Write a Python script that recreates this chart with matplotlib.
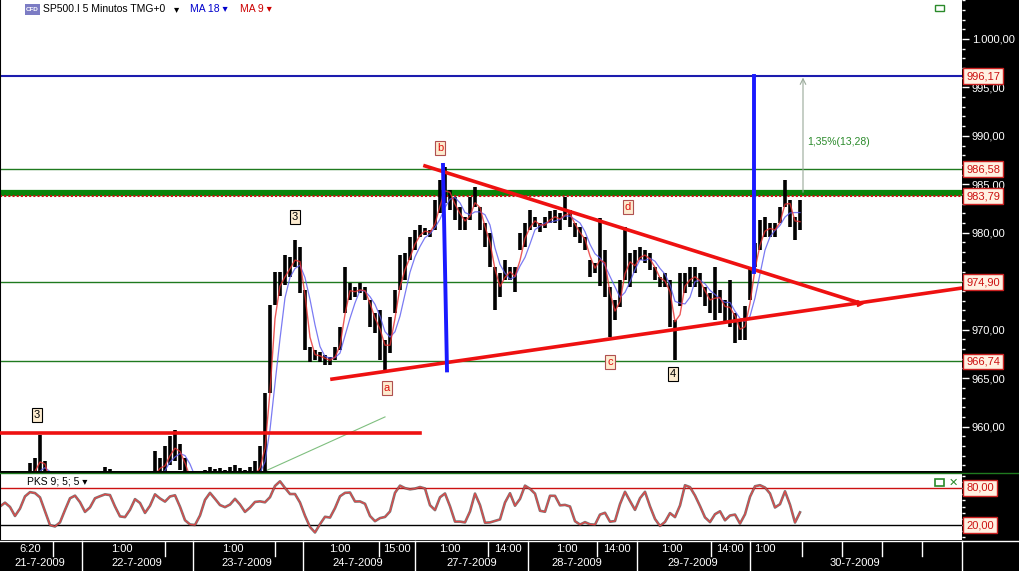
import numpy as np
import pandas as pd
import matplotlib
matplotlib.use("Agg")
import matplotlib.pyplot as plt
from matplotlib.ticker import MultipleLocator, FuncFormatter, NullFormatter
from matplotlib.lines import Line2D
from matplotlib.patches import Rectangle

plt.rcParams['font.family'] = ['Liberation Sans', 'DejaVu Sans']

# ---------------- data (5-minute bars, sampled) ----------------
bar_low = [
    952.5, 953.0, 952.0, 951.5, 952.0, 953.0, 954.0, 954.5, 955.0, 954.0,
    952.5, 951.5, 951.0, 951.5, 952.0, 952.5, 952.0, 951.5, 952.0, 952.5,
    953.0, 954.0, 954.0, 953.0, 952.5, 952.0, 952.5, 953.0, 952.5, 952.0,
    953.0, 954.5, 954.0, 955.0, 956.0, 956.5, 955.5, 954.5, 953.0, 952.0,
    952.5, 953.5, 954.0, 953.8, 954.0, 953.5, 954.0, 954.2, 954.0, 953.5,
    953.8, 954.0, 954.5, 955.0, 963.5, 972.5, 973.5, 974.6, 975.4, 976.5,
    973.8, 967.9, 966.7, 966.9, 966.7, 966.4, 966.4, 966.9, 967.9, 971.7,
    973.1, 973.4, 973.8, 973.1, 970.3, 969.7, 966.9, 965.8, 967.6, 971.7,
    974.1, 975.1, 977.2, 978.2, 979.6, 979.8, 979.6, 980.3, 982.0, 983.1,
    982.4, 981.3, 980.3, 980.3, 981.3, 982.7, 980.3, 978.5, 976.5, 972.0,
    973.4, 975.1, 975.1, 973.9, 978.2, 978.5, 980.3, 980.6, 980.1, 980.5,
    981.0, 981.0, 980.3, 981.3, 980.6, 979.6, 978.9, 978.2, 975.4, 975.9,
    974.5, 973.4, 969.2, 971.0, 972.3, 975.1, 974.4, 975.9, 977.2, 976.9,
    976.2, 975.1, 974.4, 974.4, 970.3, 966.9, 972.4, 973.8, 974.4, 974.4,
    973.4, 972.4, 971.7, 971.0, 971.7, 970.7, 970.3, 968.6, 968.9, 968.9,
    973.1, 976.5, 978.2, 979.6, 979.6, 979.6, 981.0, 982.7, 980.6, 979.3,
    980.3,
]
bar_high = [
    954.0, 954.5, 953.8, 953.5, 954.0, 954.8, 956.2, 956.8, 959.1, 956.5,
    954.5, 953.5, 953.0, 953.5, 954.0, 954.2, 954.0, 953.5, 954.0, 954.5,
    955.0, 955.8, 955.6, 955.0, 954.5, 954.0, 954.3, 954.8, 954.5, 954.0,
    955.0, 957.5, 956.8, 958.0, 959.0, 959.6, 958.2, 956.8, 955.0, 954.0,
    954.5, 955.5, 955.8, 955.6, 955.7, 955.5, 955.8, 956.0, 955.7, 955.5,
    955.8, 956.5, 958.0, 963.5, 972.5, 976.0, 976.0, 977.7, 977.5, 979.3,
    978.5, 974.1, 968.2, 967.9, 967.7, 967.4, 967.2, 968.2, 970.3, 976.5,
    974.8, 974.4, 974.8, 974.4, 973.1, 971.7, 972.0, 968.9, 971.3, 974.1,
    977.7, 977.9, 979.6, 980.3, 980.8, 980.5, 980.3, 983.4, 985.4, 986.8,
    984.4, 983.7, 982.7, 981.6, 983.7, 984.7, 982.7, 981.0, 980.0, 976.5,
    975.9, 977.2, 976.5, 976.5, 980.0, 981.0, 982.4, 981.6, 981.0, 981.6,
    982.2, 982.4, 982.0, 983.7, 982.4, 981.0, 980.6, 979.6, 977.2, 976.9,
    981.5, 978.2, 974.4, 973.1, 975.1, 980.6, 977.9, 978.2, 978.5, 978.2,
    977.9, 976.5, 975.4, 975.9, 975.1, 971.0, 975.9, 975.9, 976.5, 976.5,
    975.9, 974.4, 973.8, 976.5, 974.1, 973.1, 975.1, 971.7, 971.0, 972.4,
    976.5, 978.9, 981.3, 981.6, 981.0, 981.0, 982.7, 985.4, 983.4, 981.6,
    983.4,
]

level_lines = [996.17, 986.58, 974.90, 966.74]
level_colors = ['#1c1cae', '#1f7a1f', '#1f7a1f', '#1f7a1f']
resistance_band = 984.15
dotted_level = 983.79
price_labels = ["996,17", "986,58", "983,79", "974,90", "966,74"]
price_label_values = [996.17, 986.58, 983.79, 974.90, 966.74]

# analyst drawings (bar index, price)
upper_trend = ([85.0, 172.0], [986.9, 972.75])
lower_trend = ([66.4, 192.4], [964.9, 974.3])
old_resistance = ([0.0, 84.0], [959.3, 959.3])
thin_diag = ([53.0, 77.0], [955.4, 961.0])
blue_vert1 = ([88.6, 89.4], [987.0, 965.8])
blue_vert2 = ([150.8, 150.8], [996.17, 976.0])
wave_labels = ["3", "3", "b", "a", "c", "d", "4"]
wave_x = [59.0, 7.4, 88.0, 77.4, 122.0, 125.6, 134.6]
wave_y = [981.6, 961.2, 988.75, 964.0, 966.7, 982.7, 965.4]
wave_col = ['black', 'black', '#dd1111', '#dd1111', '#dd1111', '#dd1111', 'black']

day_bounds = [16.4, 38.6, 60.6, 83.0, 105.6, 127.4, 150.0, 192.4]
time_seps = [10.6, 33.0, 55.0, 75.8, 97.6, 119.4, 142.2, 160.4, 168.4, 176.4, 184.4]
time_labels = ["6:20", "1:00", "1:00", "1:00", "15:00", "1:00", "14:00", "1:00",
               "14:00", "1:00", "14:00", "1:00"]
time_pos = [6.0, 24.4, 46.6, 68.0, 79.4, 90.0, 101.6, 113.4, 123.4, 134.4, 146.0, 153.0]
date_labels = ["21-7-2009", "22-7-2009", "23-7-2009", "24-7-2009", "27-7-2009",
               "28-7-2009", "29-7-2009", "30-7-2009"]
date_pos = [8.0, 27.4, 49.4, 71.6, 94.4, 115.4, 138.6, 171.0]

# ---------------- derived series ----------------
lo = pd.Series(bar_low)
hi = pd.Series(bar_high)
close = (lo + hi) / 2
idx = np.arange(len(lo))
ma18 = close.rolling(4, min_periods=1).mean()
ma9 = close.rolling(2, min_periods=1).mean()
ll = lo.rolling(3, min_periods=1).min()
hh = hi.rolling(3, min_periods=1).max()
stk = (100 * (close - ll) / (hh - ll)).rolling(2, min_periods=1).mean()

# ---------------- figure ----------------
W, H = 1019, 571
fig = plt.figure(figsize=(W / 100, H / 100), dpi=100, facecolor='black')
XR = 962 / W
XMAX = 192.4

ax = fig.add_axes([0, 100 / H, XR, 471 / H])
ax.set_facecolor('white')
ax.set_xlim(0, XMAX)
ax.set_ylim(955.42, 1004.02)
for s in ['top', 'right', 'bottom']:
    ax.spines[s].set_visible(False)
ax.spines['left'].set_color('black')
ax.spines['left'].set_linewidth(1.5)
ax.set_xticks([])
ax.yaxis.tick_right()
ax.yaxis.set_major_locator(MultipleLocator(5))
ax.yaxis.set_minor_locator(MultipleLocator(1))


def eu(v, pos=None):
    if abs(v - 975) < 0.01:
        return ""
    s = f"{v:,.2f}"
    return s.replace(',', 'X').replace('.', ',').replace('X', '.')


ax.yaxis.set_major_formatter(FuncFormatter(eu))
ax.tick_params(axis='y', which='major', colors='white', length=5, width=1,
               labelsize=8, pad=2)
ax.tick_params(axis='y', which='minor', colors='white', length=2, width=1)

# level lines
for v, c in zip(level_lines, level_colors):
    ax.axhline(v, color=c, lw=1.5 if v == 996.17 else 1.0, zorder=2)
ax.axhline(resistance_band, color='#0a840a', lw=4.5, zorder=2)
ax.axhline(dotted_level, color='#cc1111', lw=1.5, ls=(0, (1, 1)), zorder=2)

# price bars
ax.vlines(idx, lo, hi, color='black', lw=2.6, zorder=3)
ax.plot(idx, ma18, color='#5a5af0', lw=0.9, alpha=0.8, zorder=4)
ax.plot(idx, ma9, color='#e83030', lw=1.0, alpha=0.8, zorder=4)

# drawings
ax.plot(*old_resistance, color='#ee1111', lw=2.6, zorder=5)
ax.plot(*upper_trend, color='#ee1111', lw=2.6, zorder=5)
ax.plot(*lower_trend, color='#ee1111', lw=2.6, zorder=5)
ax.plot([upper_trend[0][1]], [upper_trend[1][1]], marker='>', color='#ee1111',
        ms=5, zorder=5)
ax.plot(*thin_diag, color='#7fbf7f', lw=0.8, zorder=2)
ax.plot(*blue_vert1, color='#1a1aff', lw=2.8, zorder=6)
ax.plot(*blue_vert2, color='#1a1aff', lw=2.8, zorder=6)
ax.annotate('', xy=(160.6, 996.3), xytext=(160.6, 983.9),
            arrowprops=dict(arrowstyle='->', color='#9aaa9a', lw=0.8), zorder=6)
ax.text(161.4, 989.4, "1,35%(13,28)", color='#2a8a2a', fontsize=7.5,
        ha='left', va='center', zorder=7)

for t, x, y, c in zip(wave_labels, wave_x, wave_y, wave_col):
    ax.text(x, y, t, color=c, fontsize=8, ha='center', va='center', zorder=8,
            bbox=dict(boxstyle='square,pad=0.18', fc='#fdecd0',
                      ec='black' if c == 'black' else '#b05050', lw=0.8))

# right-side price boxes
for t, v in zip(price_labels, price_label_values):
    ax.annotate(t, xy=(1.0, v), xycoords=('axes fraction', 'data'),
                xytext=(3, 0), textcoords='offset points', ha='left',
                va='center', fontsize=8, color='#cc1111', zorder=10,
                annotation_clip=False,
                bbox=dict(boxstyle='square,pad=0.25', fc='#fff1e2',
                          ec='#cc2222', lw=1))

# title / legend text
ty = 1 - 9.5 / 471
ax.add_patch(Rectangle((25 / 962, 1 - 15 / 471), 15 / 962, 11 / 471,
                       transform=ax.transAxes, fc='#7c7cc4', ec='none', zorder=9))
ax.text(32.5 / 962, ty, "CFD", transform=ax.transAxes, fontsize=4.5,
        color='white', ha='center', va='center', weight='bold', zorder=10)
ax.text(43 / 962, ty, "SP500.I 5 Minutos TMG+0", transform=ax.transAxes,
        fontsize=7.5, color='black', va='center', zorder=10)
ax.text(174 / 962, ty, "\u25be", transform=ax.transAxes, fontsize=7.5,
        color='black', va='center', zorder=10)
ax.text(190 / 962, ty, "MA 18 \u25be", transform=ax.transAxes, fontsize=7.5,
        color='#0000cc', va='center', zorder=10)
ax.text(240 / 962, ty, "MA 9 \u25be", transform=ax.transAxes, fontsize=7.5,
        color='#cc0000', va='center', zorder=10)
ax.add_patch(Rectangle((935 / 962, 1 - 11 / 471), 9 / 962, 6 / 471,
                       transform=ax.transAxes, fc='none', ec='#2a8a2a', lw=1,
                       zorder=10))

# ---------------- oscillator ----------------
ao = fig.add_axes([0, 31 / H, XR, 67 / H])
ao.set_facecolor('white')
ao.set_xlim(0, XMAX)
ao.set_ylim(-4.3, 104.3)
for s in ['top', 'right', 'bottom']:
    ao.spines[s].set_visible(False)
ao.spines['left'].set_color('black')
ao.spines['left'].set_linewidth(1.5)
ao.set_xticks([])
ao.yaxis.tick_right()
ao.yaxis.set_major_locator(MultipleLocator(20))
ao.yaxis.set_minor_locator(MultipleLocator(10))
ao.yaxis.set_major_formatter(NullFormatter())
ao.tick_params(axis='y', which='both', colors='white', length=2, width=1)
ao.axhline(80, color='#cc1111', lw=1)
ao.axhline(20, color='black', lw=1)
ao.plot(idx, stk, color='#404040', lw=1.9, alpha=0.7)
ao.plot(idx, stk, color='#e04848', lw=0.9)
ao.text(27 / 962, 0.88, "PKS 9; 5; 5 \u25be", transform=ao.transAxes,
        fontsize=7.5, color='black', va='center')
ao.add_patch(Rectangle((935 / 962, 0.80), 9 / 962, 0.11, transform=ao.transAxes,
                       fc='none', ec='#2a8a2a', lw=1.2))
ao.text(953 / 962, 0.86, "\u2715", transform=ao.transAxes, fontsize=8,
        color='#2a8a2a', ha='center', va='center', weight='bold',
        family=['DejaVu Sans'])
for t, v in [("80,00", 80), ("20,00", 20)]:
    ao.annotate(t, xy=(1.0, v), xycoords=('axes fraction', 'data'),
                xytext=(3, 0), textcoords='offset points', ha='left',
                va='center', fontsize=8, color='#cc1111', zorder=10,
                annotation_clip=False,
                bbox=dict(boxstyle='square,pad=0.25', fc='#fff1e2',
                          ec='#cc2222', lw=1))

# separators
fig.add_artist(Line2D([0, 1], [98.5 / H, 98.5 / H], color='#1f7a1f', lw=1,
                      transform=fig.transFigure))
fig.add_artist(Line2D([0, 1], [30.5 / H, 30.5 / H], color='white', lw=1,
                      transform=fig.transFigure))

# ---------------- time axis ----------------
ad = fig.add_axes([0, 0, XR, 30 / H])
ad.set_facecolor('black')
ad.set_xlim(0, XMAX)
ad.set_ylim(0, 30)
ad.axis('off')
for x in day_bounds:
    ad.plot([x, x], [0, 30], color='white', lw=1, clip_on=False)
for x in time_seps:
    ad.plot([x, x], [15, 30], color='white', lw=1)
for t, x in zip(time_labels, time_pos):
    ad.text(x, 22.5, t, color='white', fontsize=8, ha='center', va='center')
for t, x in zip(date_labels, date_pos):
    ad.text(x, 7.5, t, color='white', fontsize=8, ha='center', va='center')

fig.savefig("out.png", dpi=100, facecolor='black')
